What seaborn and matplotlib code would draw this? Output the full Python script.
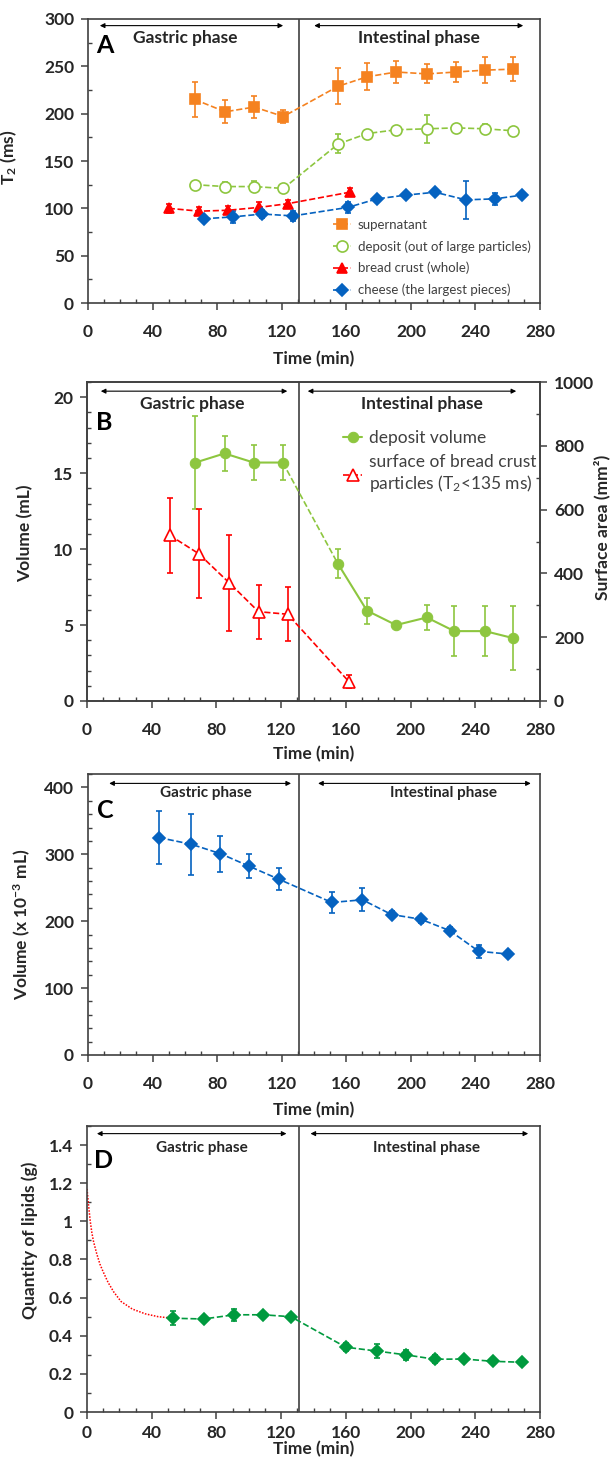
import numpy as np
import matplotlib
matplotlib.use("Agg")
import matplotlib.pyplot as plt
from matplotlib.ticker import MultipleLocator, FixedLocator
import seaborn as sns

sns.set_theme(style="white")
plt.rcParams['font.family'] = ['Lato', 'DejaVu Sans']
plt.rcParams['mathtext.fontset'] = 'custom'
plt.rcParams['mathtext.rm'] = 'Lato'
plt.rcParams['mathtext.it'] = 'Lato:italic'
plt.rcParams['mathtext.bf'] = 'Lato:bold'

# ---- panel A : T2 of the fractions
sup_t = [66, 85, 103, 121, 155, 173, 191, 210, 228, 246, 263]
sup_v = [215, 202, 207, 197, 229, 239, 244, 242, 244, 246, 247]
sup_e = [18, 12, 12, 7, 19, 14, 12, 10, 11, 14, 13]
dep_t = [66, 85, 103, 121, 155, 173, 191, 210, 228, 246, 263]
dep_v = [125, 123, 123, 121, 168, 179, 183, 184, 185, 184, 182]
dep_e = [3, 5, 6, 3, 10, 3, 3, 15, 3, 5, 3]
crust_t = [50, 69, 87, 106, 124, 162]
crust_v = [100, 97, 98, 101, 105, 117]
crust_e = [5, 4, 4, 6, 4, 4]
cheese_t = [72, 90, 108, 127, 161, 179, 197, 215, 234, 252, 269]
cheese_v = [89, 91, 94, 92, 101, 110, 114, 117, 109, 110, 114]
cheese_e = [3, 6, 4, 5, 6, 3, 3, 3, 20, 6, 3]

# ---- panel B : deposit volume and crust surface
vol_t = [67, 85, 103, 121, 155, 173, 191, 210, 227, 246, 263]
vol_v = [15.7, 16.3, 15.7, 15.7, 9.05, 5.95, 5.0, 5.5, 4.6, 4.6, 4.15]
vol_e = [3.05, 1.15, 1.15, 1.15, 0.93, 0.85, 0.1, 0.83, 1.65, 1.65, 2.1]
surf_t = [51, 69, 88, 106, 124, 162]
surf_v = [520, 462, 370, 280, 272, 60]
surf_e = [118, 140, 152, 85, 85, 20]

# ---- panel C : volume (x 10-3 mL)
c_t = [44, 64, 82, 100, 118, 151, 170, 188, 206, 224, 242, 260]
c_v = [325, 315, 301, 282, 263, 228, 232, 210, 203, 186, 155, 151]
c_e = [40, 46, 27, 18, 17, 16, 17, 5, 5, 5, 10, 4]

# ---- panel D : lipids (points + red fitted curve)
d_t = [53, 72, 91, 109, 126, 160, 179, 197, 215, 233, 251, 269]
d_v = [0.492, 0.488, 0.51, 0.51, 0.50, 0.34, 0.32, 0.30, 0.277, 0.278, 0.266, 0.261]
d_e = [0.037, 0.015, 0.033, 0.015, 0.012, 0.02, 0.037, 0.025, 0.022, 0.015, 0.012, 0.01]
fit_t = [0, 1, 2, 3, 4, 6, 8, 10, 13, 16.5, 21, 28, 36, 44, 53]
fit_v = [1.17, 1.08, 1.0, 0.94, 0.895, 0.83, 0.775, 0.735, 0.68, 0.63, 0.58, 0.54, 0.515, 0.5, 0.492]

ORANGE = '#F58220'
LGREEN = '#8DC63F'
RED = '#FF0000'
BLUE = '#0562C0'
DGREEN = '#009A3E'
INK = '#262626'
FRAME = '#404040'
SWITCH = 131
FS = 12.5

fig = plt.figure(figsize=(6.12, 14.61), dpi=100)
axA = fig.add_axes([0.1438, 0.7926, 0.7386, 0.1944])
axB = fig.add_axes([0.1422, 0.5202, 0.7402, 0.2183])
axC = fig.add_axes([0.1438, 0.2779, 0.7386, 0.1923])
axD = fig.add_axes([0.1422, 0.0335, 0.7402, 0.1958])


def style_axis(ax, ymax, ymajor, yminor, xpad=10):
    ax.set_xlim(0, 280)
    ax.set_ylim(0, ymax)
    ax.xaxis.set_major_locator(MultipleLocator(40))
    ax.xaxis.set_minor_locator(MultipleLocator(10))
    ax.yaxis.set_major_locator(MultipleLocator(ymajor))
    ax.yaxis.set_minor_locator(MultipleLocator(yminor))
    for sp in ax.spines.values():
        sp.set_visible(True)
        sp.set_color(FRAME)
        sp.set_linewidth(1.2)
    ax.tick_params(which='major', direction='out', length=5, width=1.1, color=FRAME,
                   labelsize=FS, labelcolor=INK, pad=5, left=True, bottom=True)
    ax.tick_params(axis='x', which='major', pad=xpad)
    ax.tick_params(which='minor', direction='in', length=3, width=1, color=FRAME,
                   left=True, bottom=True)
    for lab in ax.get_xticklabels() + ax.get_yticklabels():
        lab.set_fontweight('bold')
    ax.axvline(SWITCH, color=FRAME, lw=1.2, zorder=1)
    ax.grid(False)


def phases(ax, y_arrow, y_text, g_span, i_span, g_x, i_x, size, letter, letter_y):
    arr = dict(arrowstyle='<|-|>', color='black', lw=0.8, mutation_scale=7)
    ax.annotate('', xy=(g_span[1], y_arrow), xytext=(g_span[0], y_arrow), arrowprops=arr)
    ax.annotate('', xy=(i_span[1], y_arrow), xytext=(i_span[0], y_arrow), arrowprops=arr)
    ax.text(g_x, y_text, 'Gastric phase', ha='center', va='center', fontsize=size,
            fontweight='bold', color=INK)
    ax.text(i_x, y_text, 'Intestinal phase', ha='center', va='center', fontsize=size,
            fontweight='bold', color=INK)
    ax.text(10.5, letter_y, letter, ha='center', va='center', fontsize=18,
            fontweight='bold', color='black')


def series(ax, t, v, e, color, marker, ms, ls='--', face=None, label=None, lw=1.2):
    ax.errorbar(t, v, yerr=e, fmt='none', ecolor=color, elinewidth=1.2, capsize=2,
                capthick=1.2, zorder=2)
    sns.lineplot(x=t, y=v, ax=ax, color=color, linestyle=ls, lw=lw, marker=marker,
                 markersize=ms, markerfacecolor=face if face else color,
                 markeredgecolor=color, markeredgewidth=1.2, label=label, zorder=3)


# ---------------- A
style_axis(axA, 300, 50, 25)
series(axA, sup_t, sup_v, sup_e, ORANGE, 's', 7, label='supernatant')
series(axA, dep_t, dep_v, dep_e, LGREEN, 'o', 8, face='white',
       label='deposit (out of large particles)')
series(axA, crust_t, crust_v, crust_e, RED, '^', 7, label='bread crust (whole)')
series(axA, cheese_t, cheese_v, cheese_e, BLUE, 'D', 6, label='cheese (the largest pieces)')
phases(axA, 293, 280, (5.6, 122.6), (138.4, 271.3), 60, 205, 12.5, 'A', 272)
axA.set_xlabel('Time (min)', fontsize=FS, fontweight='bold', color=INK, labelpad=8)
axA.set_ylabel(r'T$_\mathbf{2}$ (ms)', fontsize=FS, fontweight='bold', color=INK)
axA.yaxis.set_label_coords(-0.153, 0.514)
legA = axA.legend(loc='upper left', bbox_to_anchor=(0.53, 0.315), frameon=False,
                  fontsize=9.5, handlelength=1.4, handletextpad=0.5, labelspacing=0.7,
                  borderaxespad=0)
for txt in legA.get_texts():
    txt.set_color('#404040')

# ---------------- B
style_axis(axB, 21, 5, 1)
axB2 = axB.twinx()
axB2.set_ylim(0, 1000)
axB2.yaxis.set_major_locator(MultipleLocator(200))
axB2.yaxis.set_minor_locator(MultipleLocator(100))
axB2.tick_params(which='major', direction='out', length=5, width=1.1, color=FRAME,
                 labelsize=FS, labelcolor=INK, pad=5, right=True)
axB2.tick_params(which='minor', direction='in', length=3, width=1, color=FRAME, right=True)
for lab in axB2.get_yticklabels():
    lab.set_fontweight('bold')
for sp in axB2.spines.values():
    sp.set_color(FRAME)
    sp.set_linewidth(1.2)
axB2.grid(False)

axB.errorbar(vol_t, vol_v, yerr=vol_e, fmt='none', ecolor=LGREEN, elinewidth=1.2,
             capsize=2, capthick=1.2, zorder=2)
sns.lineplot(x=vol_t[3:5], y=vol_v[3:5], ax=axB, color=LGREEN, linestyle='--', lw=1.2, zorder=2)
sns.lineplot(x=vol_t[:4], y=vol_v[:4], ax=axB, color=LGREEN, lw=1.5, marker='o',
             markersize=7.5, markeredgecolor=LGREEN, zorder=3, label='deposit volume')
sns.lineplot(x=vol_t[4:], y=vol_v[4:], ax=axB, color=LGREEN, lw=1.5, marker='o',
             markersize=7.5, markeredgecolor=LGREEN, zorder=3)
series(axB2, surf_t, surf_v, surf_e, RED, '^', 8, face='white',
       label='surface of bread crust\nparticles (T$_\\mathrm{2}$<135 ms)')
axB2.get_legend().remove()
axB.get_legend().remove()
phases(axB, 20.4, 19.56, (6.8, 125.5), (134.7, 267), 65, 207, 12.5, 'B', 18.35)
axB.set_xlabel('Time (min)', fontsize=FS, fontweight='bold', color=INK, labelpad=6)
axB.set_ylabel('Volume (mL)', fontsize=FS, fontweight='bold', color=INK)
axB.yaxis.set_label_coords(-0.119, 0.527)
axB2.set_ylabel('Surface area (mm²)', fontsize=FS, fontweight='bold', color=INK)
axB2.yaxis.set_label_coords(1.118, 0.545)
h1, l1 = axB.get_legend_handles_labels()
h2, l2 = axB2.get_legend_handles_labels()
legB = axB.legend(h1 + h2, l1 + l2, loc='upper left', bbox_to_anchor=(0.55, 0.87),
                  frameon=False, fontsize=12.5, handlelength=1.1, handletextpad=0.4,
                  labelspacing=0.45, borderaxespad=0)
for txt in legB.get_texts():
    txt.set_color('#404040')

# ---------------- C
style_axis(axC, 420, 100, 20)
series(axC, c_t, c_v, c_e, BLUE, 'D', 6)
phases(axC, 406, 392, (11.4, 127.5), (140.8, 276), 73, 220, 11, 'C', 366)
axC.set_xlabel('Time (min)', fontsize=FS, fontweight='bold', color=INK, labelpad=7)
axC.set_ylabel(r'Volume (x 10$^{\mathbf{-3}}$ mL)', fontsize=FS, fontweight='bold', color=INK)
axC.yaxis.set_label_coords(-0.122, 0.463)

# ---------------- D
style_axis(axD, 1.5, 0.2, 0.1, xpad=4)
d_ticks = [0, 0.2, 0.4, 0.6, 0.8, 1.0, 1.2, 1.4]
axD.yaxis.set_major_locator(FixedLocator(d_ticks))
axD.set_yticklabels(['0', '0.2', '0.4', '0.6', '0.8', '1', '1.2', '1.4'], fontweight='bold')
sns.lineplot(x=fit_t, y=fit_v, ax=axD, color=RED, linestyle=(0, (1, 1)), lw=1.1, zorder=2)
series(axD, d_t, d_v, d_e, DGREEN, 'D', 6.5)
phases(axD, 1.46, 1.385, (4.4, 125), (136.4, 274.4), 71, 210, 11, 'D', 1.32)
axD.set_xlabel('Time (min)', fontsize=FS, fontweight='bold', color=INK, labelpad=0)
axD.set_ylabel('Quantity of lipids (g)', fontsize=FS, fontweight='bold', color=INK)
axD.yaxis.set_label_coords(-0.108, 0.60)

fig.savefig('out.png', dpi=100)
